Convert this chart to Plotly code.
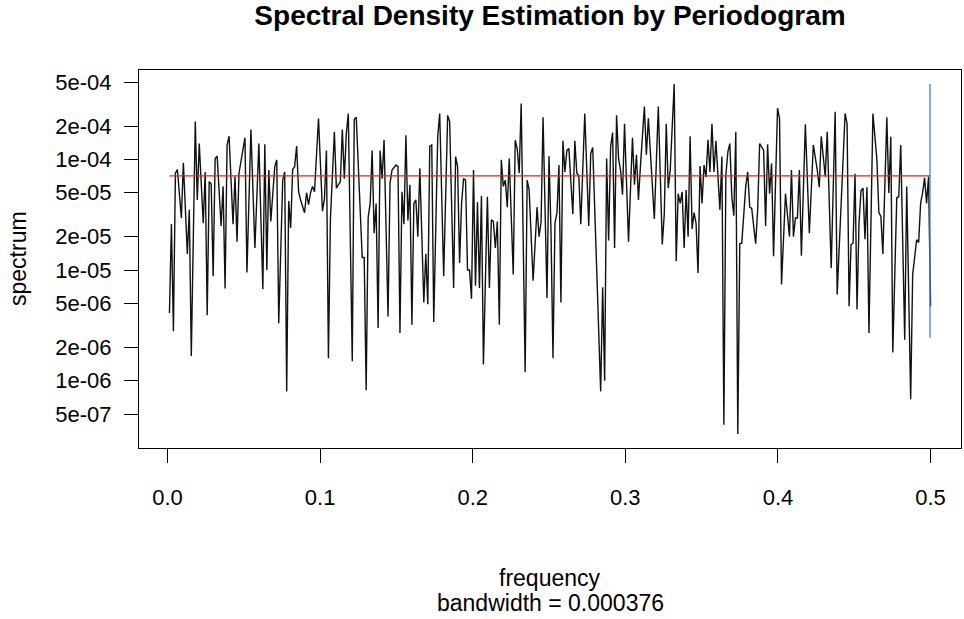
import plotly.graph_objects as go
import math

N = 768  # series length (Fourier frequencies are k / N)

harmonic = [
    1, 2, 3, 4, 5, 7, 8, 10, 11, 12, 14, 15, 16, 18, 19, 20, 21, 22, 23, 24, 25, 27, 28, 29, 30, 31,
    33, 34, 35, 36, 39, 40, 42, 44, 46, 48, 49, 50, 51, 52, 54, 55, 56, 58, 59, 60, 61,
    62, 63, 64, 65, 66, 67, 69, 70, 71, 72, 73, 74, 76, 78, 79, 80, 81, 82, 84, 85, 86, 87, 88, 89,
    90, 91, 93, 94, 95, 98, 99, 100, 101, 102, 103, 104, 105, 106, 107, 108, 109, 111, 112, 113,
    115, 116, 117, 118, 119, 120, 121, 122, 123, 124,
    125, 126, 127, 129, 130, 131, 132, 133, 134, 136, 137, 139, 141, 142, 144, 145, 146, 147, 148,
    149, 150, 151, 152, 153, 154, 155, 156, 157, 158, 159, 161, 162, 163, 164, 165, 166, 167, 168,
    169, 170, 171, 172, 174, 175, 176, 177, 178, 180, 181, 182, 184, 186,
    187, 188, 189, 191, 192, 193, 194, 195, 196, 197, 198, 199, 200, 201, 202, 204, 205, 206, 207,
    208, 210, 212, 213, 214, 218, 219, 220, 221, 222, 223, 224, 225, 226, 227, 228, 229, 230, 232,
    234, 235, 236, 237, 238, 240, 241, 242, 245, 247, 249, 250,
    251, 252, 253, 255, 256, 257, 258, 259, 260, 261, 262, 263, 264, 265, 266, 267, 268, 269, 270,
    271, 272, 273, 274, 275, 276, 277, 278, 279, 280, 281, 282, 283, 284, 285, 286, 287, 288, 289,
    290, 291, 292, 293, 294, 296, 297, 298, 300, 301, 302, 303, 304, 305, 307, 308, 309, 311, 313,
    314, 315, 316, 317, 318, 319, 321, 323, 325, 327, 328, 329, 330, 331, 332, 334, 336, 337, 341,
    342, 343, 344, 345, 346, 347, 348, 349, 350, 351, 352, 353, 355, 357, 358, 359, 360, 362, 363,
    364, 365, 367, 368, 369, 371, 372, 374, 375, 376, 377, 378, 379, 380, 381, 382, 383, 384,
]

spectrum = [
    4.1e-6, 2.6e-5, 2.8e-6, 7.5e-5, 8.1e-5, 2.95e-5, 9.3e-5, 1.4e-5, 3.5e-5, 1.67e-6, 2.2e-4, 4.3e-5,
    1.39e-4, 2.65e-5, 7.7e-5, 3.9e-6, 6.3e-5, 6.0e-5, 8.8e-6, 1.02e-4, 1.07e-4, 2.5e-5, 5.7e-5,
    6.8e-6, 1.35e-4, 1.62e-4,
    2.6e-5, 7.0e-5, 1.8e-5, 7.5e-5, 1.57e-4, 9.5e-6, 1.86e-4, 1.58e-5, 1.39e-4, 6.7e-6, 1.37e-4,
    1.0e-5, 8.0e-5, 2.75e-5, 8.6e-5, 9.9e-5, 3.3e-6, 6.5e-5, 7.7e-5, 8.0e-7, 4.2e-5,
    2.4e-5, 8.1e-5, 8.6e-5, 1.32e-4, 5.1e-5, 4.3e-5, 3.3e-5, 5.0e-5, 3.9e-5, 5.0e-5, 5.7e-5, 5.1e-5,
    2.34e-4, 3.4e-5, 4.4e-5, 1.2e-4, 1.6e-6, 2.85e-5, 1.78e-4, 5.5e-5, 5.9e-5, 6.3e-5, 1.86e-4,
    6.7e-5,
    1.71e-4, 2.6e-4, 1.5e-6, 2.3e-4, 2.4e-4, 1.3e-5, 1.3e-5, 8.2e-7, 3.0e-5, 4.0e-5, 1.2e-4,
    2.15e-5, 4.0e-5, 3.0e-6, 1.2e-4, 6.7e-5, 1.5e-4, 3.8e-6, 6.1e-5, 8.0e-5,
    8.9e-5, 8.6e-5, 2.7e-6, 5.1e-5, 2.6e-5, 1.65e-4, 2.8e-5, 5.9e-5, 3.2e-6, 4.0e-5,
    4.3e-5, 2.0e-5, 8.3e-5, 5.1e-6, 1.4e-5, 4.9e-6, 1.32e-4, 1.35e-4, 3.4e-6, 1.6e-4, 2.6e-4,
    8.8e-6, 2.5e-4, 2.2e-4, 6.9e-6, 1.06e-4, 8.6e-5, 1.16e-5, 4.0e-5,
    6.7e-5, 6.5e-5, 1.0e-5, 1.0e-5, 5.5e-6, 8.0e-5, 7.2e-6, 4.1e-5, 6.9e-6, 4.7e-5, 1.4e-6, 4.6e-5,
    6.9e-6, 2.85e-5, 2.75e-5, 1.58e-5, 2.75e-5, 3.2e-6, 9.9e-5,
    5.7e-5, 6.5e-5, 3.7e-5, 1.02e-4, 9.1e-6, 1.49e-4, 1.25e-4, 7.5e-5, 3.2e-4, 1.2e-6, 6.5e-5,
    5.3e-5, 8.0e-6, 3.7e-5,
    2.0e-5, 2.7e-5, 2.4e-4, 5.6e-6, 1.07e-4, 2.3e-5, 1.6e-6, 2.65e-5, 3.3e-5, 8.9e-5, 5.1e-6,
    1.47e-4, 7.7e-5, 1.21e-4, 1.25e-4, 3.2e-5, 1.47e-4, 7.5e-5, 7.1e-5,
    2.6e-5, 2.6e-4, 2.5e-5, 1.13e-4, 1.28e-4, 8.0e-7, 7.0e-6, 1.0e-6, 1.02e-4, 1.85e-5, 1.3e-4,
    1.75e-4, 1.58e-5, 2.5e-4, 1.02e-4, 8.0e-5, 4.8e-5, 2.1e-4, 1.8e-5,
    1.57e-4, 5.9e-5, 1.1e-4, 4.3e-5, 8.6e-5, 3.0e-4, 1.1e-4, 2.35e-4, 2.9e-5, 3.0e-4, 1.7e-5, 3.2e-5,
    2.1e-4, 5.5e-5, 8.0e-5, 4.8e-4, 1.2e-5, 4.9e-5, 4.0e-5, 5.1e-5, 1.58e-5, 5.3e-5, 2.0e-5, 1.62e-4,
    2.35e-5, 3.3e-5, 2.65e-5, 9.4e-6, 8.7e-5, 4.0e-5, 8.9e-5,
    6.9e-5, 1.5e-4, 7.7e-5, 2.1e-4, 7.7e-5, 1.47e-4, 6.7e-5, 3.5e-5, 1.06e-4, 4.0e-7, 7.2e-5,
    1.17e-4, 1.39e-4, 4.6e-5, 3.1e-5, 1.78e-4, 3.3e-7, 1.73e-5, 1.75e-5,
    3.3e-5, 5.7e-5, 7.7e-5, 3.7e-5, 3.6e-5, 1.73e-5, 3.5e-5, 1.39e-4, 1.21e-4, 2.5e-5, 1.37e-4,
    4.9e-5, 9.2e-5, 1.33e-5, 2.9e-4, 2.34e-4, 7.4e-6, 4.9e-5, 2.0e-5,
    8.0e-5, 2.0e-5, 2.95e-5, 2.95e-5, 8.0e-5, 1.35e-5, 2.08e-4, 2.15e-5, 1.35e-4, 8.0e-5, 5.6e-5,
    1.62e-4, 1.06e-4, 7.0e-5, 1.78e-4, 1.04e-5, 2.7e-4, 6.0e-6, 2.6e-4,
    2.1e-4, 4.7e-6, 1.7e-5, 1.75e-5, 7.4e-5, 4.4e-6, 2.65e-5, 5.2e-5, 5.5e-5, 1.9e-5, 5.6e-5,
    2.7e-6, 2.6e-4, 9.9e-5, 3.3e-5, 3.05e-5, 1.4e-5, 2.4e-4, 4.97e-5,
    1.6e-4, 1.8e-6, 4.5e-5, 4.6e-5, 1.35e-4, 2.35e-6, 5.7e-5, 6.8e-7, 9.1e-6, 1.3e-5, 1.88e-5,
    1.77e-5, 4.0e-5, 5.0e-5, 6.8e-5, 4.0e-5, 7.0e-5, 4.7e-6,
]

bandwidth = 0.000376
mean_level = 7.1e-5           # red reference line
ci_upper = 4.8e-4             # blue 95% CI bar
ci_centre = 1.05e-5
ci_lower = 2.45e-6

x_ticks = [0.0, 0.1, 0.2, 0.3, 0.4, 0.5]
x_ticktext = ["0.0", "0.1", "0.2", "0.3", "0.4", "0.5"]
y_ticks = [5e-7, 1e-6, 2e-6, 5e-6, 1e-5, 2e-5, 5e-5, 1e-4, 2e-4, 5e-4]
y_ticktext = ["5e-07", "1e-06", "2e-06", "5e-06", "1e-05", "2e-05", "5e-05", "1e-04", "2e-04", "5e-04"]

frequency = [k / N for k in harmonic]

# R-style 4% axis padding
fmin, fmax = min(frequency), max(frequency)
xpad = 0.04 * (fmax - fmin)
lmin, lmax = math.log10(min(spectrum)), math.log10(max(spectrum))
ypad = 0.04 * (lmax - lmin)

FONT = "Liberation Sans, Arial, Helvetica, sans-serif"

fig = go.Figure()
fig.add_trace(go.Scatter(x=frequency, y=spectrum, mode="lines",
                         line=dict(color="#111111", width=1.4), showlegend=False))
fig.add_trace(go.Scatter(x=[fmin, fmax], y=[mean_level, mean_level], mode="lines",
                         line=dict(color="#ee1c1c", width=1.3), showlegend=False))
ci_x = fmax - bandwidth
fig.add_trace(go.Scatter(x=[ci_x, ci_x], y=[ci_lower, ci_upper], mode="lines",
                         line=dict(color="#3d7fe0", width=1.3), showlegend=False))
fig.add_trace(go.Scatter(x=[ci_x - bandwidth / 2, ci_x + bandwidth / 2], y=[ci_centre, ci_centre],
                         mode="lines", line=dict(color="#3d7fe0", width=1.3), showlegend=False))

fig.update_layout(
    width=964, height=619,
    margin=dict(l=139, r=3, t=70, b=171),
    paper_bgcolor="white", plot_bgcolor="white",
    font=dict(family=FONT, size=22, color="black"),
    title=dict(text="<b>Spectral Density Estimation by Periodogram</b>",
               x=0.5, xref="paper", y=1 - 15 / 619, yref="container",
               xanchor="center", yanchor="middle",
               font=dict(family=FONT, size=28, color="black")),
    xaxis=dict(range=[fmin - xpad, fmax + xpad], tickvals=x_ticks, ticktext=x_ticktext,
               showgrid=False, zeroline=False, showline=True, mirror=True,
               linecolor="black", linewidth=1, ticks="outside", ticklen=14,
               tickcolor="black", tickwidth=1, ticklabelstandoff=16,
               tickfont=dict(size=22)),
    yaxis=dict(type="log", range=[lmin - ypad, lmax + ypad], tickvals=y_ticks, ticktext=y_ticktext,
               showgrid=False, zeroline=False, showline=True, mirror=True,
               linecolor="black", linewidth=1, ticks="outside", ticklen=14,
               tickcolor="black", tickwidth=1, ticklabelstandoff=8,
               tickfont=dict(size=22)),
    annotations=[
        dict(text="frequency", x=0.5, xref="paper", y=-(578 - 448) / 378, yref="paper",
             showarrow=False, xanchor="center", yanchor="middle", font=dict(size=23)),
        dict(text="bandwidth = 0.000376", x=0.5, xref="paper", y=-(603 - 448) / 378, yref="paper",
             showarrow=False, xanchor="center", yanchor="middle", font=dict(size=23)),
        dict(text="spectrum", x=-(139 - 18) / 822, xref="paper", y=0.5, yref="paper",
             showarrow=False, textangle=-90, xanchor="center", yanchor="middle",
             font=dict(size=23)),
    ],
)

fig.write_html("out.html")
